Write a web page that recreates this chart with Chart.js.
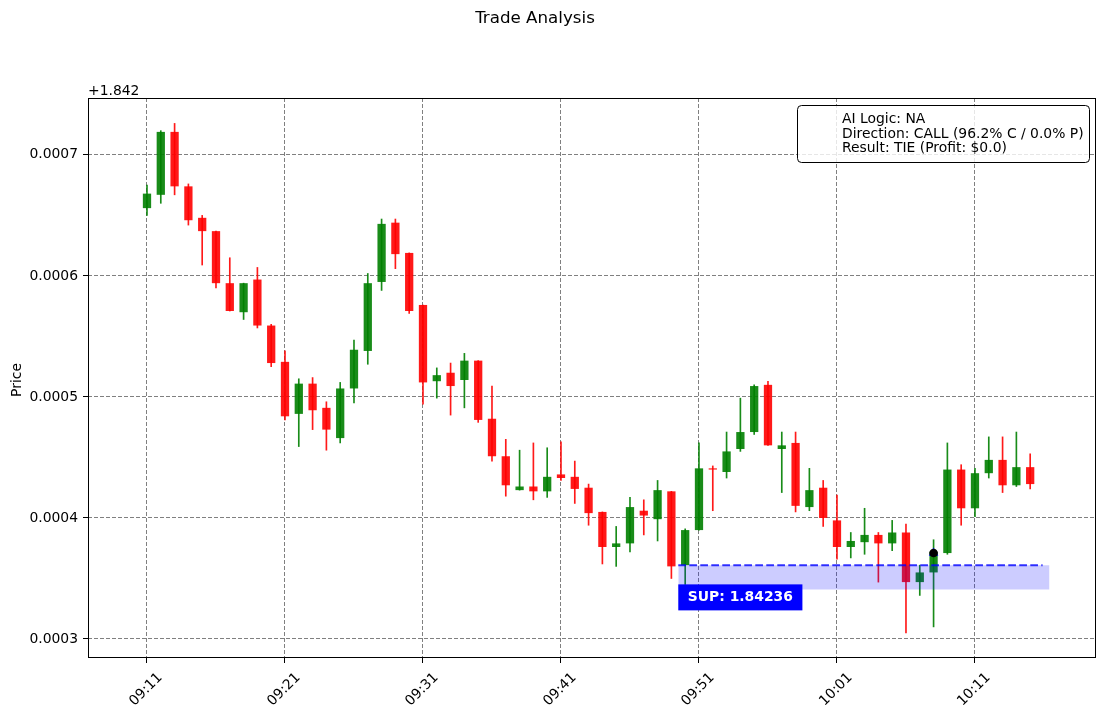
<!DOCTYPE html>
<html>
<head>
<meta charset="utf-8">
<title>Trade Analysis</title>
<script src="https://cdn.jsdelivr.net/npm/chart.js@4.4.1/dist/chart.umd.min.js"></script>
<style>
  html, body { margin: 0; padding: 0; background: #fff; }
  #wrap { width: 1105px; height: 716px; }
</style>
</head>
<body>
<div id="wrap"><canvas id="myChart" width="1105" height="716"></canvas></div>
<script>
// one candle per minute, first one is 09:11
const opens = [
  1.842656, 1.842667, 1.842719, 1.842674, 1.842648, 1.842637, 1.842594, 1.842570, 1.842597, 1.842559,
  1.842529, 1.842486, 1.842511, 1.842491, 1.842466, 1.842507, 1.842538, 1.842595, 1.842644, 1.842619,
  1.842576, 1.842513, 1.842520, 1.842514, 1.842530, 1.842482, 1.842451, 1.842423, 1.842426, 1.842422,
  1.842436, 1.842434, 1.842425, 1.842405, 1.842376, 1.842379, 1.842406, 1.842399, 1.842422, 1.842361,
  1.842390, 1.842441, 1.842438, 1.842457, 1.842471, 1.842510, 1.842457, 1.842462, 1.842409, 1.842425,
  1.842398, 1.842376, 1.842380, 1.842386, 1.842379, 1.842388, 1.842347, 1.842355, 1.842371, 1.842440,
  1.842408, 1.842437, 1.842448, 1.842427, 1.842442
];
const highs = [
  1.842675, 1.842720, 1.842726, 1.842676, 1.842650, 1.842637, 1.842615, 1.842594, 1.842607, 1.842560,
  1.842538, 1.842515, 1.842516, 1.842496, 1.842512, 1.842547, 1.842602, 1.842647, 1.842647, 1.842619,
  1.842576, 1.842524, 1.842528, 1.842536, 1.842530, 1.842509, 1.842465, 1.842456, 1.842462, 1.842458,
  1.842463, 1.842447, 1.842428, 1.842405, 1.842393, 1.842417, 1.842415, 1.842431, 1.842422, 1.842391,
  1.842462, 1.842443, 1.842471, 1.842499, 1.842510, 1.842513, 1.842471, 1.842471, 1.842441, 1.842431,
  1.842419, 1.842388, 1.842408, 1.842388, 1.842398, 1.842395, 1.842361, 1.842382, 1.842462, 1.842444,
  1.842441, 1.842467, 1.842467, 1.842471, 1.842453
];
const lows = [
  1.842650, 1.842660, 1.842667, 1.842642, 1.842609, 1.842590, 1.842571, 1.842564, 1.842557, 1.842525,
  1.842481, 1.842459, 1.842473, 1.842456, 1.842462, 1.842495, 1.842527, 1.842588, 1.842606, 1.842569,
  1.842494, 1.842499, 1.842485, 1.842491, 1.842479, 1.842447, 1.842418, 1.842423, 1.842415, 1.842417,
  1.842431, 1.842412, 1.842394, 1.842362, 1.842360, 1.842372, 1.842386, 1.842381, 1.842350, 1.842345,
  1.842390, 1.842406, 1.842433, 1.842455, 1.842469, 1.842460, 1.842421, 1.842405, 1.842406, 1.842393,
  1.842366, 1.842367, 1.842370, 1.842347, 1.842373, 1.842305, 1.842336, 1.842310, 1.842370, 1.842394,
  1.842401, 1.842433, 1.842421, 1.842426, 1.842424
];
const closes = [
  1.842668, 1.842719, 1.842674, 1.842646, 1.842637, 1.842594, 1.842571, 1.842594, 1.842559, 1.842528,
  1.842484, 1.842511, 1.842489, 1.842473, 1.842507, 1.842539, 1.842594, 1.842643, 1.842618, 1.842571,
  1.842512, 1.842518, 1.842509, 1.842530, 1.842481, 1.842451, 1.842427, 1.842426, 1.842422, 1.842434,
  1.842433, 1.842424, 1.842404, 1.842376, 1.842379, 1.842409, 1.842402, 1.842423, 1.842360, 1.842390,
  1.842441, 1.842440, 1.842455, 1.842471, 1.842509, 1.842460, 1.842460, 1.842410, 1.842423, 1.842400,
  1.842376, 1.842381, 1.842386, 1.842379, 1.842388, 1.842347, 1.842355, 1.842372, 1.842440, 1.842408,
  1.842437, 1.842448, 1.842427, 1.842442, 1.842428
];

const tickIndex = [0, 10, 20, 30, 40, 50, 60];
const timeLabels = ['09:11', '09:21', '09:31', '09:41', '09:51', '10:01', '10:11'];
const yTicks = [1.8423, 1.8424, 1.8425, 1.8426, 1.8427];
const priceOffset = 1.842;

// support zone
const supLevel = 1.842361;
const supBandLow = 1.842341;
const supStart = 38.5;
const supLineEnd = 64.9;
const supBandEnd = 65.4;

// entry
const entryIndex = 57;
const entryPrice = 1.842371;

const legendLines = [
  'AI Logic: NA',
  'Direction: CALL (96.2% C / 0.0% P)',
  'Result: TIE (Profit: $0.0)'
];

const green = 'rgba(0, 128, 0, 0.9)';
const red = 'rgba(255, 0, 0, 0.9)';
const colors = closes.map((c, i) => c >= opens[i] ? green : red);

const wicks = highs.map((h, i) => ({ x: i, y: [lows[i], h] }));
const bodies = opens.map((o, i) => ({ x: i, y: [Math.min(o, closes[i]), Math.max(o, closes[i])] }));

const font = 'DejaVu Sans';
const fs = 13.9;

const extras = {
  id: 'extras',
  afterDraw(chart) {
    const c = chart.ctx;
    const a = chart.chartArea;
    const xs = chart.scales.x;
    const ys = chart.scales.y;
    c.save();

    // frame
    c.strokeStyle = '#000';
    c.lineWidth = 1;
    c.strokeRect(a.left + 0.5, a.top + 0.5, a.right - a.left - 1, a.bottom - a.top - 1);

    c.fillStyle = '#000';
    c.font = '16.7px "' + font + '"';
    c.textAlign = 'center';
    c.textBaseline = 'alphabetic';
    c.fillText('Trade Analysis', 535, 23);

    c.font = fs + 'px "' + font + '"';
    c.textAlign = 'left';
    c.fillText('+' + priceOffset, a.left, a.top - 3);

    // y title
    c.save();
    c.translate(17, 380);
    c.rotate(-Math.PI / 2);
    c.textAlign = 'center';
    c.textBaseline = 'middle';
    c.fillText('Price', 0, 0);
    c.restore();

    // x tick labels, rotated 45
    tickIndex.forEach((v, i) => {
      c.save();
      c.translate(xs.getPixelForValue(v) - 1, a.bottom + 31.5);
      c.rotate(-Math.PI / 4);
      c.textAlign = 'center';
      c.textBaseline = 'middle';
      c.fillText(timeLabels[i], 0, 0);
      c.restore();
    });

    // legend box
    c.beginPath();
    c.roundRect(797.5, 105.5, 292, 57, 4);
    c.fillStyle = 'rgba(255,255,255,0.8)';
    c.fill();
    c.strokeStyle = '#000';
    c.stroke();
    c.fillStyle = '#000';
    c.textAlign = 'left';
    c.textBaseline = 'middle';
    legendLines.forEach((t, i) => c.fillText(t, 842, 119.5 + i * 14.6));

    // support label
    const label = 'SUP: ' + supLevel.toFixed(5);
    c.font = 'bold ' + fs + 'px "' + font + '"';
    const w = c.measureText(label).width + 19;
    const bx = xs.getPixelForValue(supStart);
    const by = ys.getPixelForValue(supBandLow) - 5;
    c.fillStyle = '#0000ff';
    c.fillRect(bx, by, w, 26);
    c.fillStyle = '#fff';
    c.textAlign = 'center';
    c.fillText(label, bx + w / 2, by + 13.5);

    c.restore();
  }
};

const gridOpts = {
  color: '#808080',
  lineWidth: 1,
  offset: false,
  tickLength: 5,
  tickColor: '#000',
  tickWidth: 1,
  tickBorderDash: []
};

var ctx = document.getElementById('myChart').getContext('2d');
var myChart = new Chart(ctx, {
  type: 'bar',
  data: {
    datasets: [
      {
        type: 'line',
        data: [{ x: entryIndex, y: entryPrice }],
        showLine: false,
        pointStyle: 'circle',
        pointRadius: 4.3,
        pointBackgroundColor: '#000',
        pointBorderWidth: 0,
        order: 0
      },
      {
        type: 'line',
        data: [{ x: entryIndex, y: entryPrice }],
        showLine: false,
        pointStyle: 'triangle',
        pointRadius: 5.5,
        pointBackgroundColor: '#0000ff',
        pointBorderWidth: 0,
        order: 1
      },
      {
        type: 'line',
        data: [{ x: supStart, y: supLevel }, { x: supLineEnd, y: supLevel }],
        borderColor: 'rgba(0, 0, 255, 0.8)',
        borderWidth: 2,
        borderDash: [7.7, 3.3],
        pointRadius: 0,
        fill: false,
        order: 2
      },
      {
        type: 'line',
        data: [{ x: supStart, y: supLevel }, { x: supBandEnd, y: supLevel }],
        borderWidth: 0,
        pointRadius: 0,
        fill: { value: supBandLow },
        backgroundColor: 'rgba(0, 0, 255, 0.2)',
        order: 3
      },
      {
        label: 'body',
        data: bodies,
        backgroundColor: colors,
        borderWidth: 0,
        barPercentage: 0.6,
        categoryPercentage: 1,
        grouped: false,
        order: 4
      },
      {
        label: 'wick',
        data: wicks,
        backgroundColor: colors,
        borderWidth: 0,
        barThickness: 1,
        grouped: false,
        order: 5
      }
    ]
  },
  options: {
    responsive: false,
    animation: false,
    devicePixelRatio: 1,
    layout: { padding: { top: 98, right: 9, left: 0, bottom: 0 } },
    plugins: { legend: { display: false }, tooltip: { enabled: false }, title: { display: false } },
    scales: {
      x: {
        type: 'linear',
        min: -4.275,
        max: 68.77,
        offset: false,
        afterBuildTicks: s => { s.ticks = tickIndex.map(v => ({ value: v })); },
        afterFit: s => { s.height = 58; },
        ticks: { display: false },
        grid: gridOpts,
        border: { display: false, dash: [4, 2] }
      },
      y: {
        type: 'linear',
        min: 1.8422843,
        max: 1.842747,
        afterBuildTicks: s => { s.ticks = yTicks.map(v => ({ value: v })); },
        afterFit: s => { s.width = 88; },
        ticks: {
          color: '#000',
          padding: 5,
          font: { family: font, size: fs },
          callback: v => (v - priceOffset).toFixed(4)
        },
        grid: gridOpts,
        border: { display: false, dash: [4, 2] }
      }
    }
  },
  plugins: [extras]
});
</script>
</body>
</html>
